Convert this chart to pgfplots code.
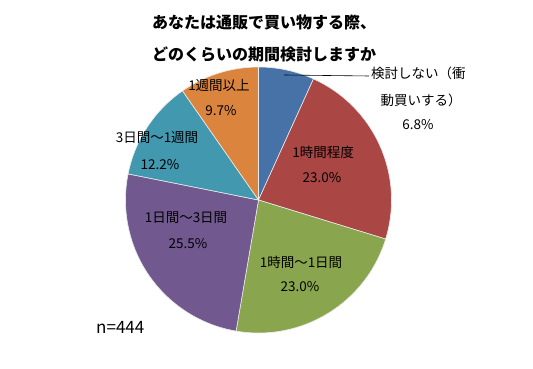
\documentclass[border=0pt]{standalone}
\usepackage{pgfplots}
\usepackage{pgfplotstable}
\pgfplotsset{compat=1.18}
\usepackage{fontspec}
\setmainfont{Noto Sans CJK JP}
\definecolor{c0}{HTML}{4672A8}
\definecolor{c1}{HTML}{AA4643}
\definecolor{c2}{HTML}{89A54E}
\definecolor{c3}{HTML}{71588F}
\definecolor{c4}{HTML}{4198AF}
\definecolor{c5}{HTML}{DB843D}

% shares (%), clockwise from 12 o'clock
\pgfplotstableread{
v
6.8
23.0
23.0
25.5
12.2
9.7
}\piedata

\begin{document}
\begin{tikzpicture}
% cumulative angles
\def\tot{0}
\pgfplotsforeachungrouped \i in {0,...,5}{%
  \pgfplotstablegetelem{\i}{v}\of\piedata
  \pgfmathsetmacro\tot{\tot+\pgfplotsretval}%
  \xdef\tot{\tot}%
}
\def\cum{0}
\pgfplotsforeachungrouped \i in {0,...,5}{%
  \pgfplotstablegetelem{\i}{v}\of\piedata
  \pgfmathsetmacro\sa{90-\cum/\tot*360}%
  \pgfmathsetmacro\cum{\cum+\pgfplotsretval}%
  \xdef\cum{\cum}%
  \pgfmathsetmacro\ea{90-\cum/\tot*360}%
  \expandafter\xdef\csname sa\i\endcsname{\sa}%
  \expandafter\xdef\csname ea\i\endcsname{\ea}%
}
\begin{axis}[
  width=533bp, height=369bp, scale only axis,
  xmin=0, xmax=533, ymin=0, ymax=369,
  hide axis, clip=false,
]
\path (axis cs:0,0) rectangle (axis cs:533,369);
\pgfplotsinvokeforeach{0,...,5}{
  \fill[c#1, draw=white!85!gray, line width=0.6bp]
    (axis cs:258.5,169) -- ++(\csname sa#1\endcsname:133bp)
    arc[start angle=\csname sa#1\endcsname, end angle=\csname ea#1\endcsname, radius=133bp] -- cycle;
}
% title
\node[anchor=west, inner sep=0, font=\fontsize{16bp}{19bp}\selectfont\bfseries] at (axis cs:152,347) {あなたは通販で買い物する際、};
\node[anchor=west, inner sep=0, font=\fontsize{16bp}{19bp}\selectfont\bfseries] at (axis cs:152,315) {どのくらいの期間検討しますか};
% leader line
\draw[black, line width=0.6bp] (axis cs:284,294) -- (axis cs:369,293);
% labels
\begin{scope}[every node/.style={inner sep=0, font=\fontsize{13.5bp}{16bp}\selectfont}]
\node[anchor=west] at (axis cs:371,296) {検討しない（衝};
\node at (axis cs:421,269) {動買いする）};
\node at (axis cs:418,244) {6.8\%};
\node at (axis cs:323,217) {1時間程度};
\node at (axis cs:322,191) {23.0\%};
\node at (axis cs:301,107) {1時間〜1日間};
\node at (axis cs:300,82) {23.0\%};
\node at (axis cs:186,151) {1日間〜3日間};
\node at (axis cs:188,125) {25.5\%};
\node at (axis cs:157,231) {3日間〜1週間};
\node at (axis cs:160,204) {12.2\%};
\node at (axis cs:219,284) {1週間以上};
\node at (axis cs:221,258) {9.7\%};
\node[anchor=west, font=\fontsize{17bp}{20bp}\selectfont] at (axis cs:96,42) {n=444};
\end{scope}
\end{axis}
\end{tikzpicture}
\end{document}
